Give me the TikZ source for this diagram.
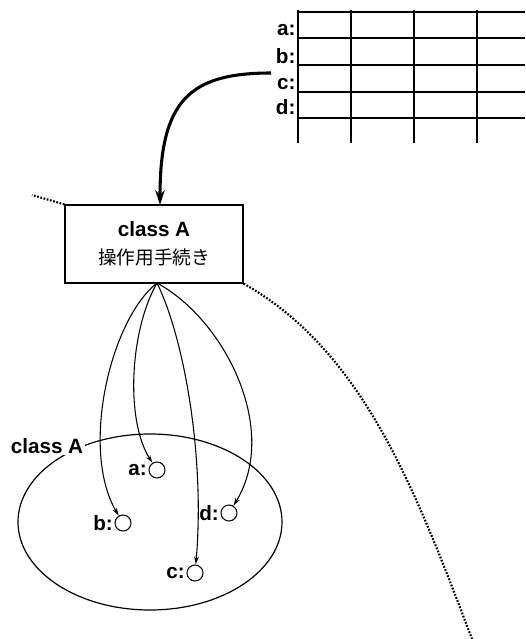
\documentclass[tikz,border=0pt]{standalone}
\usepackage{fontspec}
\setmainfont{Liberation Sans}
\newfontfamily\jpfont{Noto Sans CJK JP}
\usetikzlibrary{arrows.meta, positioning}

\begin{document}
\begin{tikzpicture}[x=0.75pt, y=-0.75pt,
    lbl/.style={font=\fontsize{15.5}{18}\selectfont\bfseries, inner sep=1pt},
    slot/.style={circle, draw, line width=0.8pt, minimum size=12pt, inner sep=0pt},
    link/.style={line width=0.8pt, -{Stealth[length=6pt, width=3.5pt]}},
    trail/.style={line width=1.6pt, dash pattern=on 1.3pt off 1.2pt}]
    \useasboundingbox (0,0) rectangle (525,639);

    % table of the instances
    \foreach \x in {298,351,414,477}
      \draw[line width=0.9pt] (\x,10) -- (\x,143);
    \foreach \y in {12,38,65,92,118}
      \draw[line width=0.9pt] (298,\y) -- (525,\y);
    \node[lbl, anchor=base east] (ta) at (297,36) {a:};
    \node[lbl, anchor=base east] (tb) at (297,63) {b:};
    \node[lbl, anchor=base east] (tc) at (297,89) {c:};
    \node[lbl, anchor=base east] (td) at (297,114) {d:};
    \coordinate (tab) at (271,73);

    % class box
    \node[draw, line width=0.9pt, minimum width=133.5pt, minimum height=58.5pt,
          align=center, font=\fontsize{15.5}{17}\selectfont] (cls) at (154,244)
          {\bfseries class A\\[4pt]{\jpfont\fontsize{14}{16}\selectfont 操作用手続き}};
    \draw[line width=2.3pt, -{Stealth[length=11pt, width=7pt]}]
      (tab) .. controls (190,73) and (160,100) .. (160,205);
    \coordinate (far) at (32,195);
    \coordinate (low) at (472,639);
    \draw[trail] (cls.north west) -- (far);
    \draw[trail] (cls.south east) .. controls (363,351) and (415,489) .. (low);

    % the instance set
    \draw[line width=0.9pt] (150,522) ellipse [x radius=132, y radius=88];
    \node[lbl, fill=white] (set) at (47,446) {class A};
    \node[slot, label={[lbl, label distance=0pt]left:{a:}}] (ca) at (157,470) {};
    \node[slot, label={[lbl, label distance=0pt]left:{b:}}] (cb) at (123,523) {};
    \node[slot, label={[lbl, label distance=0pt]left:{c:}}] (cc) at (195,573) {};
    \node[slot, label={[lbl, label distance=0pt]left:{d:}}] (cd) at (229,513) {};

    \coordinate (src) at (157,283);
    \draw[link] (src) .. controls (110,320) and (80,450) .. (cb);
    \draw[link] (src) .. controls (130,330) and (125,420) .. (ca);
    \draw[link] (src) .. controls (185,340) and (205,460) .. (cc);
    \draw[link] (src) .. controls (225,320) and (280,430) .. (cd);
  \end{tikzpicture}
\end{document}
